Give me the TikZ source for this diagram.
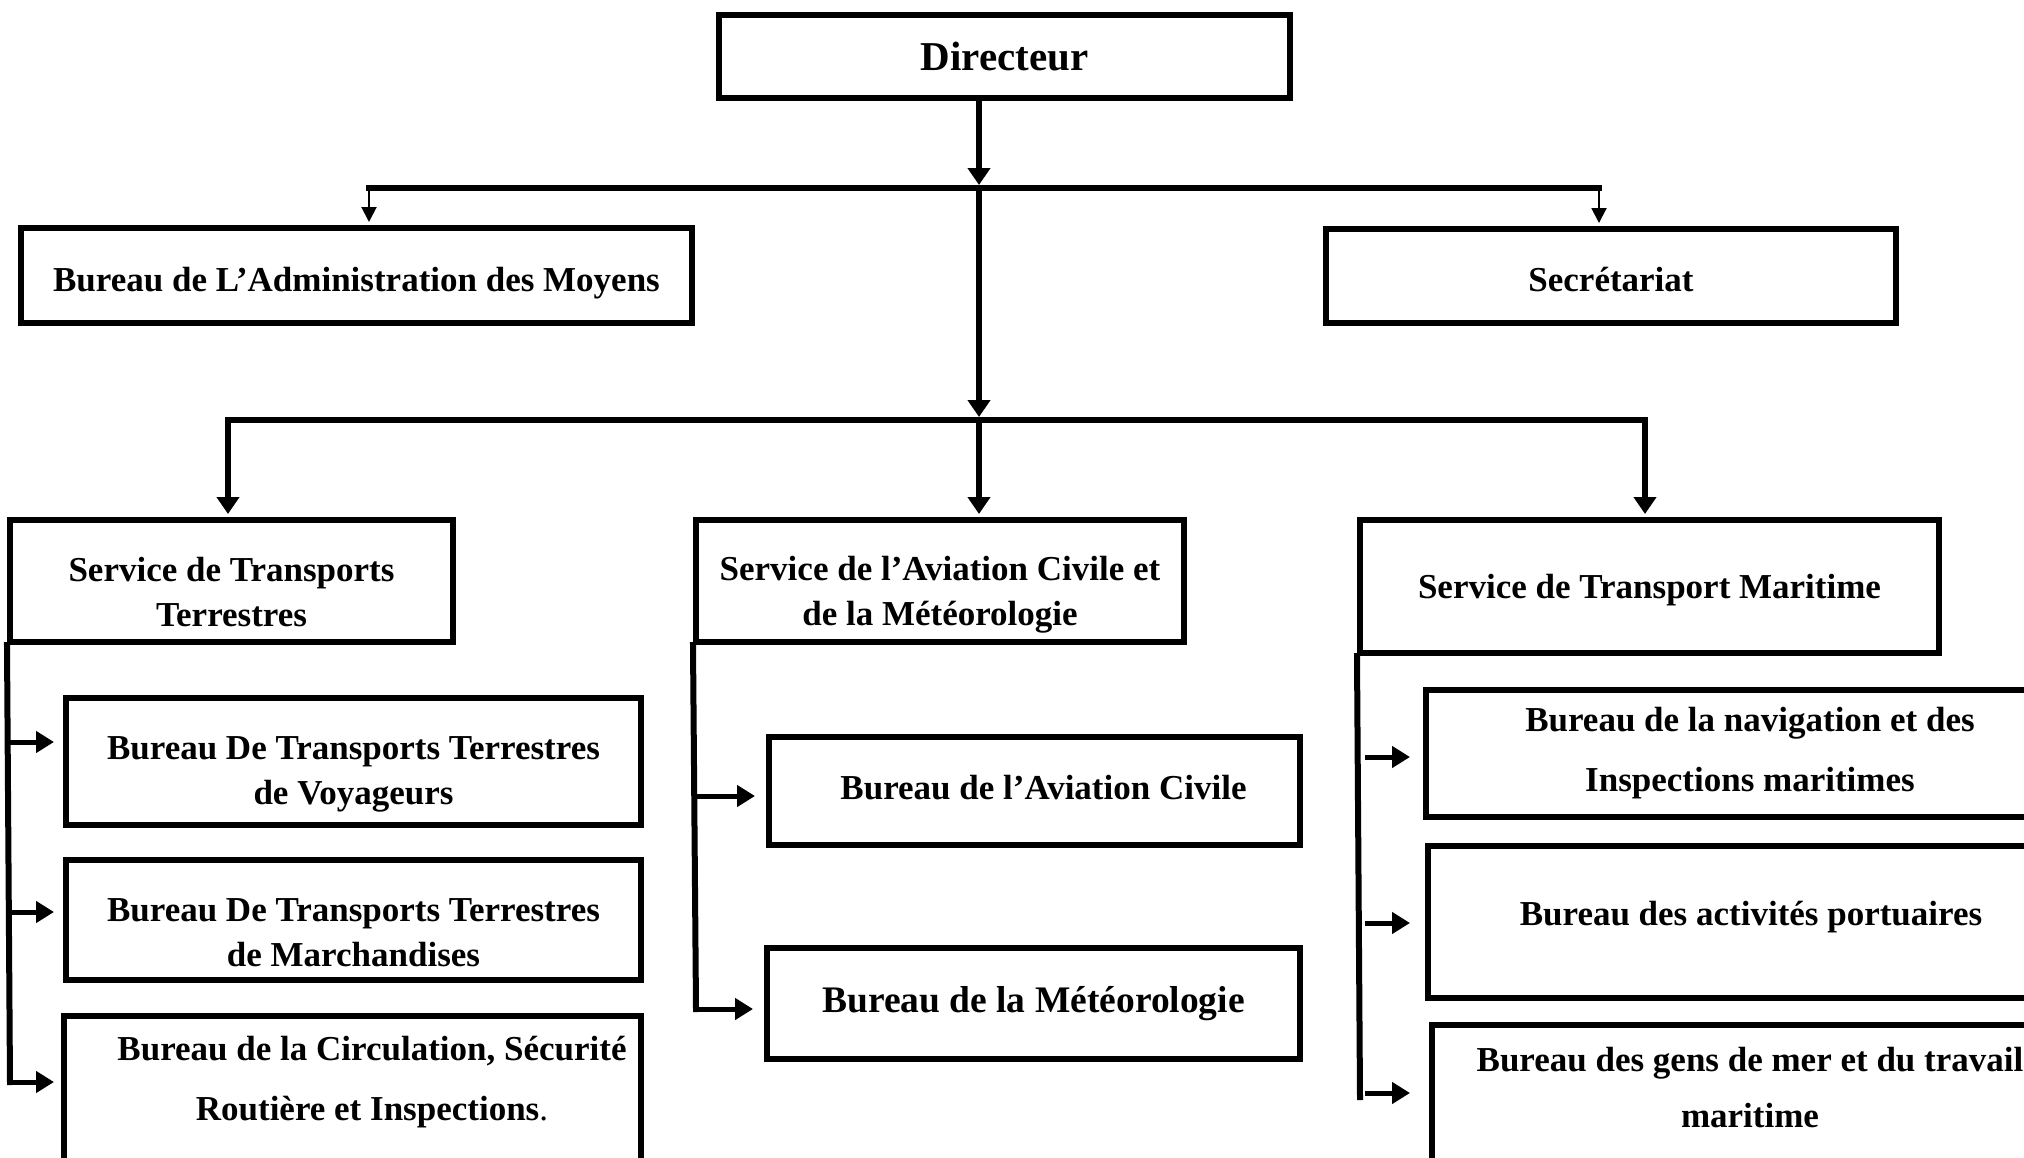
\documentclass[tikz,border=0pt]{standalone}
\usepackage{fontspec}
\setmainfont{Liberation Serif}
\usetikzlibrary{arrows.meta}
% invisible struts that move a box's text down (top) or up (bottom)
\newcommand\padtop[1]{\rule{0pt}{#1}}
\newcommand\padbot[1]{\rule[-#1]{0pt}{#1}}
\begin{document}
\begin{tikzpicture}[x=0.5pt,y=-0.5pt,
  txt/.style={font=\bfseries\fontsize{17.5pt}{22.5pt}\selectfont},
  widetxt/.style={font=\bfseries\fontsize{17.5pt}{30pt}\selectfont},
  box/.style={draw,line width=3pt,rectangle,inner sep=0pt,align=center,txt},
  labeltext/.style={inner sep=0pt,align=center},
  bus/.style={line width=3pt,line cap=rect},
  down/.style={line width=3pt,-{Triangle[length=8.5pt,width=11pt]},shorten >=1.5pt},
  thindown/.style={line width=1pt,-{Triangle[length=7.5pt,width=7.5pt]},shorten >=1.5pt},
  side/.style={line width=3pt,line cap=rect},
  sidearrow/.style={line width=2.5pt,-{Triangle[length=9pt,width=10.5pt]}},
]
\useasboundingbox (0,0) rectangle (2024,1157);
\clip (0,0) rectangle (2024,1157);

% top level
\node[box,minimum width=285.5pt,minimum height=41.5pt,
      font=\bfseries\fontsize{20.5pt}{24pt}\selectfont] (dir) at (1004.5,56.5) {Directeur};
\node[box,minimum width=335.5pt,minimum height=47.5pt] (adm) at (356.5,275.5)
  {\padtop{20pt}Bureau de L’Administration des Moyens};
\node[box,minimum width=285pt,minimum height=47pt] (sec) at (1611,276)
  {\padtop{16pt}Secrétariat};

% services
\node[box,minimum width=221.5pt,minimum height=61pt] (stt) at (231.5,581)
  {\padtop{23pt}Service de Transports\\Terrestres};
\node[box,minimum width=244pt,minimum height=61pt] (sac) at (940,581)
  {\padtop{26pt}Service de l’Aviation Civile et\\de la Météorologie};
\node[box,minimum width=289.5pt,minimum height=66.5pt] (stm) at (1649.5,586.5)
  {\padtop{16pt}Service de Transport Maritime};

% bureaux: transports terrestres
\node[box,minimum width=287.5pt,minimum height=63.5pt] (b1) at (353.5,761.5)
  {\padtop{24pt}Bureau De Transports Terrestres\\de Voyageurs};
\node[box,minimum width=287.5pt,minimum height=60pt] (b2) at (353.5,920)
  {\padtop{24pt}Bureau De Transports Terrestres\\de Marchandises};
\node[box,minimum width=288.5pt,minimum height=92pt] (b3) at (352.5,1108) {};
\node[labeltext,widetxt] (b3t) at (372,1082)
  {Bureau de la Circulation, Sécurité\\Routière et Inspections{\mdseries .}};

% bureaux: aviation civile et meteorologie
\node[box,minimum width=265.5pt,minimum height=54pt] (a1) at (1034.5,791)
  {\hspace*{9pt}Bureau de l’Aviation Civile\padbot{4pt}};
\node[box,minimum width=266.5pt,minimum height=55.5pt,
      font=\bfseries\fontsize{18.75pt}{22.5pt}\selectfont] (a2) at (1033.5,1003.5)
  {Bureau de la Météorologie};

% bureaux: transport maritime
\node[box,widetxt,minimum width=324pt,minimum height=63.5pt] (m1) at (1750,753.5)
  {Bureau de la navigation et des\\Inspections maritimes};
\node[box,minimum width=323pt,minimum height=76pt] (m2) at (1751,922)
  {Bureau des activités portuaires\padbot{9pt}};
\node[box,minimum width=321pt,minimum height=87.5pt] (m3) at (1753,1112.5) {};
\node[labeltext,font=\bfseries\fontsize{17.5pt}{28pt}\selectfont] (m3t) at (1750,1088)
  {Bureau des gens de mer et du travail\\maritime};

% junctions of the distribution lines
\coordinate (j1) at (979,188);
\coordinate (j1l) at (369,188);
\coordinate (j1r) at (1599,188);
\coordinate (j2) at (979,420);
\coordinate (j2l) at (228,420);
\coordinate (j2r) at (1645,420);

\draw[down] (dir.south -| j1) -- (j1);
\draw[bus] (j1l) -- (j1r);
\draw[thindown] (j1l) -- (j1l |- adm.north);
\draw[thindown] (j1r) -- (j1r |- sec.north);
\draw[down] (j1) -- (j2);
\draw[bus] (j2l) -- (j2r);
\draw[down] (j2l) -- (j2l |- stt.north);
\draw[down] (j2) -- (j2 |- sac.north);
\draw[down] (j2r) -- (j2r |- stm.north);

% left branch
\coordinate (lA) at (10,742);
\coordinate (lB) at (10,912);
\coordinate (lC) at (10,1082);
\draw[side] (stt.south west) -- (lC);
\draw[sidearrow,shorten >=4.5pt] (lA) -- (b1.west |- lA);
\draw[sidearrow,shorten >=4.5pt] (lB) -- (b2.west |- lB);
\draw[sidearrow,shorten >=3.5pt] (lC) -- (b3.west |- lC);

% middle branch
\coordinate (mA) at (696,796);
\coordinate (mB) at (696,1009);
\draw[side] (sac.south west) -- (mB);
\draw[sidearrow,shorten >=5.5pt] (mA) -- (a1.west |- mA);
\draw[sidearrow,shorten >=5.5pt] (mB) -- (a2.west |- mB);

% right branch
\coordinate (rA) at (1360,757);
\coordinate (rB) at (1360,923);
\coordinate (rC) at (1360,1093);
\coordinate (rEnd) at (1360,1097);
\draw[side] (stm.south west) -- (rEnd);
\draw[sidearrow,shorten <=2.5pt,shorten >=6.5pt] (rA) -- (m1.west |- rA);
\draw[sidearrow,shorten <=2.5pt,shorten >=7.5pt] (rB) -- (m2.west |- rB);
\draw[sidearrow,shorten <=2.5pt,shorten >=9.5pt] (rC) -- (m3.west |- rC);
\end{tikzpicture}
\end{document}
